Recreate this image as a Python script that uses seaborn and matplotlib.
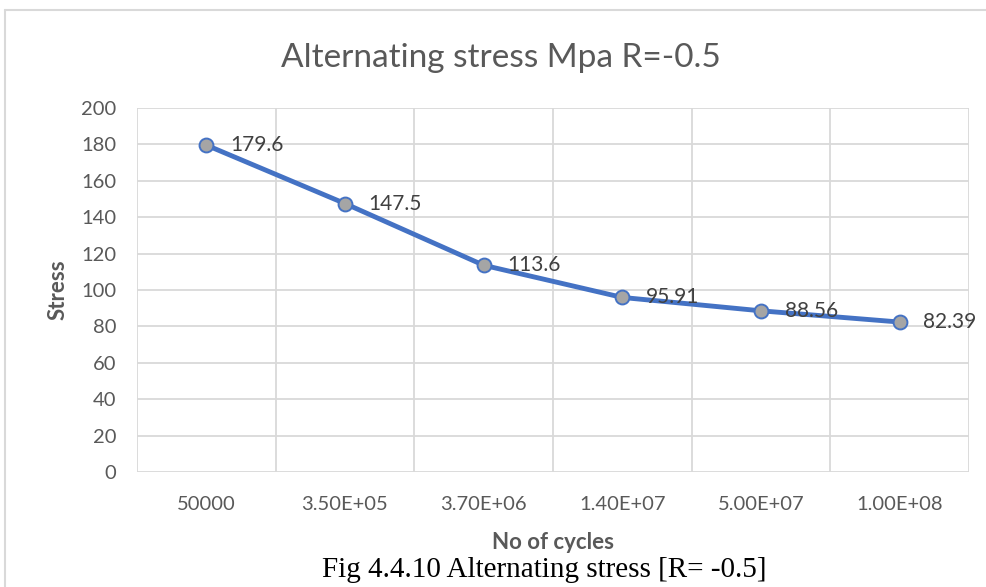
import matplotlib
matplotlib.use("Agg")
import matplotlib.pyplot as plt
from matplotlib.lines import Line2D
import seaborn as sns
import pandas as pd

# Fatigue data: stress amplitude versus number of cycles
cycles = ["50000", "3.50E+05", "3.70E+06", "1.40E+07", "5.00E+07", "1.00E+08"]
stress = [179.6, 147.5, 113.6, 95.91, 88.56, 82.39]
y_ticks = [0, 20, 40, 60, 80, 100, 120, 140, 160, 180, 200]

title = "Alternating stress Mpa R=-0.5"
x_label = "No of cycles"
y_label = "Stress"
caption = "Fig 4.4.10 Alternating stress [R= -0.5]"

LINE = "#4472C4"
MARKER = "#A5A5A5"
GRID = "#D9D9D9"
TEXT = "#595959"

sns.set_theme(style="white")
plt.rcParams["font.family"] = ["Lato", "DejaVu Sans"]

df = pd.DataFrame({"cycles": cycles, "stress": stress})

fig = plt.figure(figsize=(9.87, 5.87), dpi=100)
ax = fig.add_axes([137 / 987, 1 - 472 / 587, 832 / 987, 364 / 587])

sns.lineplot(data=df, x="cycles", y="stress", ax=ax, color=LINE, linewidth=3.5,
             marker="o", markersize=10, markerfacecolor=MARKER,
             markeredgecolor=LINE, markeredgewidth=1.4, sort=False, zorder=3)

ax.set_xlim(-0.5, len(cycles) - 0.5)
ax.set_ylim(0, 200)
ax.set_yticks(y_ticks)
ax.set_yticklabels([str(t) for t in y_ticks])

# horizontal gridlines at the value ticks
for t in y_ticks:
    ax.axhline(t, color=GRID, linewidth=1.3, zorder=1)
# vertical gridlines between categories
for b in range(len(cycles) + 1):
    ax.axvline(b - 0.5, color=GRID, linewidth=1.3, zorder=1)

for s in ax.spines.values():
    s.set_visible(False)

ax.tick_params(axis="both", length=0, colors=TEXT, labelsize=14.5)
ax.tick_params(axis="y", pad=15)
ax.tick_params(axis="x", pad=17)
for lab in ax.get_xticklabels() + ax.get_yticklabels():
    lab.set_color(TEXT)

ax.set_xlabel(x_label, fontsize=16, fontweight="bold", color=TEXT, labelpad=14)
ax.set_ylabel(y_label, fontsize=16, fontweight="bold", color=TEXT, labelpad=9)

# value labels to the right of each point
for i, v in enumerate(stress):
    ax.annotate(f"{v:g}", xy=(i, v), xytext=(17, 0), textcoords="offset points",
                ha="left", va="center", fontsize=15, color="#404040", zorder=4)

fig.text(501 / 987, 1 - 58 / 587, title, ha="center", va="center",
         fontsize=24, color=TEXT)

fig.text(544 / 987, 1 - 570 / 587, caption, ha="center", va="center",
         fontsize=21, color="black", family=["Liberation Serif", "DejaVu Serif"])

# chart area frame (left and top edges visible)
fig.add_artist(Line2D([5 / 987, 5 / 987], [0, 1 - 10 / 587], transform=fig.transFigure,
                      color=GRID, linewidth=1.5))
fig.add_artist(Line2D([5 / 987, 1], [1 - 10 / 587, 1 - 10 / 587], transform=fig.transFigure,
                      color=GRID, linewidth=1.5))

fig.savefig("out.png", dpi=100, facecolor="white")
